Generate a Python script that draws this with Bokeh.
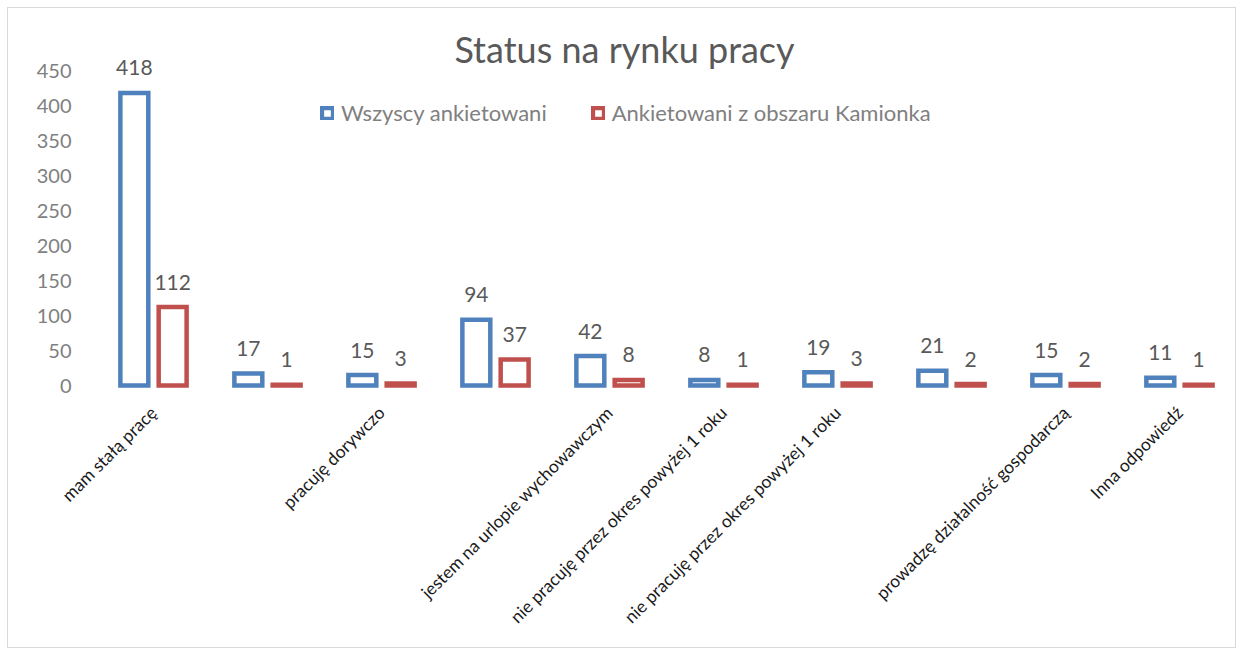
from bokeh.plotting import figure
from bokeh.models import (ColumnDataSource, Range1d, FixedTicker, Label, Legend,
                          LegendItem)
from bokeh.transform import dodge
from bokeh.core.properties import value
from bokeh.embed import file_html
from bokeh.resources import INLINE

# ---- data ----
categories = [
    "mam stałą pracę",
    "",
    "pracuję dorywczo",
    "",
    "jestem na urlopie wychowawczym",
    "nie pracuję przez okres powyżej 1 roku",
    "nie pracuję przez okres powyżej 1 roku",
    "",
    "prowadzę działalność gospodarczą",
    "Inna odpowiedź",
]
wszyscy = [418, 17, 15, 94, 42, 8, 19, 21, 15, 11]
kamionka = [112, 1, 3, 37, 8, 1, 3, 2, 2, 1]
series_names = ["Wszyscy ankietowani", "Ankietowani z obszaru Kamionka"]
y_ticks = [0, 50, 100, 150, 200, 250, 300, 350, 400, 450]
title_text = "Status na rynku pracy"

FONT = "Lato"
BLUE = "#4F81BD"
RED = "#C0504D"

xs = list(range(1, len(categories) + 1))
src = ColumnDataSource(dict(
    x=xs,
    w=wszyscy,
    k=kamionka,
    wl=[str(v) for v in wszyscy],
    kl=[str(v) for v in kamionka],
))

p = figure(width=1229, height=641, output_backend="svg", toolbar_location=None,
           x_range=Range1d(0.5, 10.509), y_range=Range1d(-5.714, 521.43),
           min_border_left=88, min_border_right=0, min_border_top=12,
           min_border_bottom=260)
p.outline_line_color = None
p.background_fill_color = "white"
p.border_fill_color = "white"
p.xgrid.visible = False
p.ygrid.visible = False
p.styles = {"border": "1px solid #d9d9d9", "margin-left": "7px", "margin-top": "7px"}

off = 0.168
bw = 0.245
r1 = p.vbar(x=dodge("x", -off, range=p.x_range), top="w", bottom=0, width=bw,
            source=src, fill_color="white", line_color=BLUE, line_width=4.5,
            line_join="miter")
r2 = p.vbar(x=dodge("x", off, range=p.x_range), top="k", bottom=0, width=bw,
            source=src, fill_color="white", line_color=RED, line_width=4.5,
            line_join="miter")

for col, lab, o in (("w", "wl", -off), ("k", "kl", off)):
    p.text(x=dodge("x", o, range=p.x_range), y=col, text=lab, source=src,
           text_align="center", text_baseline="alphabetic", y_offset=-25,
           text_font=value(FONT), text_font_size="21px", text_color="#595959")

# axes
p.yaxis.ticker = FixedTicker(ticks=y_ticks)
p.yaxis.axis_line_color = None
p.yaxis.major_tick_line_color = None
p.yaxis.minor_tick_line_color = None
p.yaxis.major_label_standoff = 19
p.yaxis.major_label_text_font = FONT
p.yaxis.major_label_text_font_size = "20px"
p.yaxis.major_label_text_color = "#808080"

shown = [x for x, c in zip(xs, categories) if c]
p.xaxis.ticker = FixedTicker(ticks=shown)
p.xaxis.major_label_overrides = {x: c for x, c in zip(xs, categories) if c}
p.xaxis.major_label_orientation = 0.7853981634
p.xaxis.axis_line_color = None
p.xaxis.major_tick_line_color = None
p.xaxis.minor_tick_line_color = None
p.xaxis.major_label_standoff = 14
p.xaxis.major_label_text_font = FONT
p.xaxis.major_label_text_font_size = "17.5px"
p.xaxis.major_label_text_color = "#1a1a1a"

# title
p.add_layout(Label(x=528, y=341, x_units="screen", y_units="screen",
                   text=title_text, text_align="center", text_baseline="alphabetic",
                   text_font=FONT, text_font_size="36px", text_color="#595959"))

legend = Legend(items=[LegendItem(label=series_names[0], renderers=[r1]),
                       LegendItem(label=series_names[1], renderers=[r2])],
                orientation="horizontal", location=(224, 263),
                glyph_width=14, glyph_height=14, label_standoff=7, spacing=44,
                padding=0, margin=0, border_line_color=None,
                background_fill_alpha=0,
                label_text_font=FONT, label_text_font_size="22px",
                label_text_color="#808080")
p.add_layout(legend, "center")

open("out.html", "w").write(file_html(p, INLINE))
